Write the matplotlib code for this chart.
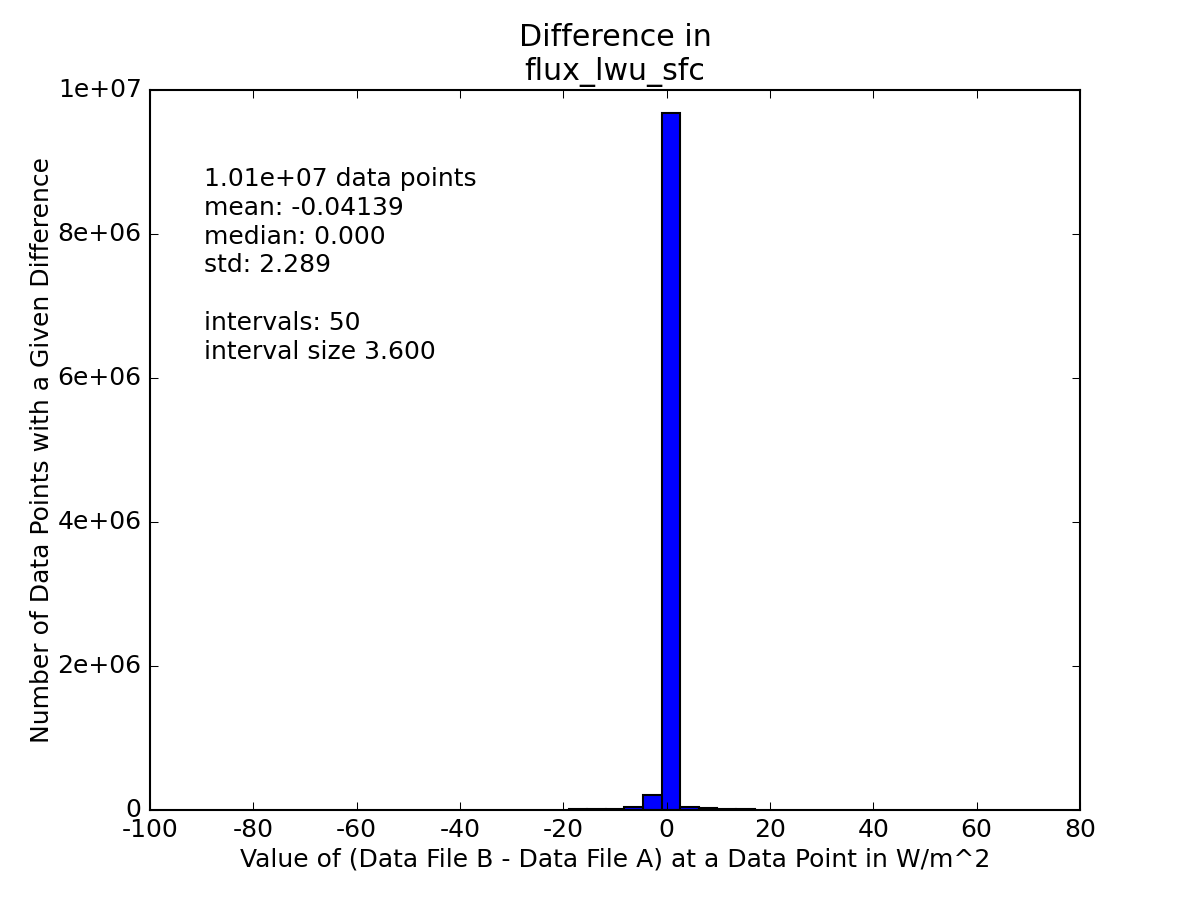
import matplotlib
matplotlib.use('Agg')
import matplotlib.pyplot as plt
from matplotlib.ticker import FuncFormatter

plt.style.use('classic')
plt.rcParams['axes.unicode_minus'] = False

# histogram bins (left edges) and counts, interval size 3.6
bin_left = [-19.0, -15.4, -11.8, -8.2, -4.6, -1.0, 2.6, 6.2, 9.8, 13.4]
counts = [8000, 15000, 18000, 35000, 210000, 9680000, 40000, 22000, 16000, 9000]
bin_width = 3.6

stats_text = ("1.01e+07 data points\n"
              "mean: -0.04139\n"
              "median: 0.000\n"
              "std: 2.289\n"
              "\n"
              "intervals: 50\n"
              "interval size 3.600")

fig = plt.figure(figsize=(8, 6), dpi=150, facecolor='white')
ax = fig.add_axes([0.125, 0.1, 0.775, 0.8])

ax.bar(bin_left, counts, width=bin_width, align='edge',
       color='blue', edgecolor='black', linewidth=1)

ax.set_xlim(-100, 80)
ax.set_ylim(0, 1e7)
ax.set_xticks(range(-100, 81, 20))
ax.set_yticks([0, 2e6, 4e6, 6e6, 8e6, 1e7])
ax.yaxis.set_major_formatter(FuncFormatter(lambda v, p: '%g' % v))

ax.set_title('Difference in\nflux_lwu_sfc')
ax.set_xlabel('Value of (Data File B - Data File A) at a Data Point in W/m^2',
              labelpad=2.5)
ax.set_ylabel('Number of Data Points with a Given Difference', labelpad=1.5)

ax.text(0.058, 0.893, stats_text, transform=ax.transAxes,
        va='top', ha='left', fontsize=12, linespacing=1.25)

fig.savefig('out.png', dpi=150, facecolor='white')
